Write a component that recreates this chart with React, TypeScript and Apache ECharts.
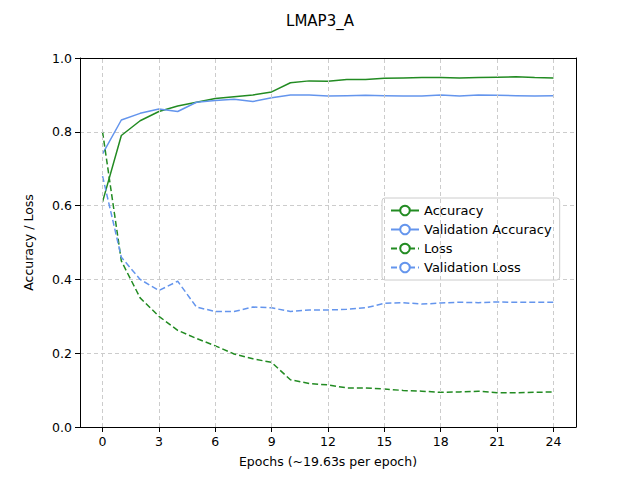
import React, { useEffect, useRef } from "react";
import * as echarts from "echarts";

const epochs = Array.from({ length: 25 }, (_, i) => i);
const xTicks = [0, 3, 6, 9, 12, 15, 18, 21, 24];
const accuracy = [0.61, 0.79, 0.83, 0.855, 0.87, 0.88, 0.89, 0.895, 0.9, 0.908, 0.933, 0.938, 0.937, 0.942, 0.942, 0.945, 0.946, 0.947, 0.947, 0.946, 0.947, 0.948, 0.949, 0.947, 0.946];
const valAccuracy = [0.74, 0.832, 0.85, 0.862, 0.855, 0.88, 0.885, 0.888, 0.882, 0.892, 0.9, 0.9, 0.897, 0.898, 0.899, 0.898, 0.897, 0.897, 0.9, 0.897, 0.9, 0.899, 0.898, 0.897, 0.898];
const loss = [0.8, 0.45, 0.35, 0.3, 0.262, 0.24, 0.22, 0.198, 0.185, 0.175, 0.128, 0.118, 0.114, 0.106, 0.106, 0.103, 0.099, 0.097, 0.094, 0.095, 0.097, 0.093, 0.093, 0.094, 0.095];
const valLoss = [0.68, 0.46, 0.4, 0.37, 0.395, 0.325, 0.313, 0.313, 0.325, 0.323, 0.313, 0.317, 0.317, 0.319, 0.323, 0.335, 0.337, 0.333, 0.336, 0.338, 0.337, 0.339, 0.338, 0.338, 0.338];

const GREEN = "#228b22";
const BLUE = "#6495ed";
const font = "DejaVu Sans";

export default function App() {
  const ref = useRef<HTMLDivElement>(null);
  useEffect(() => {
    const chart = echarts.init(ref.current!, null, { renderer: "svg" });
    const mk = (name: string, data: number[], color: string, dashed: boolean, extra: any = {}) => ({
      name, type: "line", data: epochs.map((e, i) => [e, data[i]]), showSymbol: false,
      lineStyle: { color, width: 1.5, type: dashed ? [6, 3] : "solid" }, itemStyle: { color }, ...extra,
    });
    const axisText = { color: "#000", fontSize: 12.5, fontFamily: font };
    chart.setOption({
      animation: false,
      textStyle: { fontFamily: font },
      title: { text: "LMAP3_A", left: "center", top: 8, textStyle: { fontFamily: font, fontSize: 15, fontWeight: "normal", color: "#000" } },
      grid: { left: 80, right: 64, top: 58, bottom: 53 },
      legend: {
        orient: "vertical", left: 382, top: 198, padding: [6, 8, 6, 8], itemGap: 6,
        borderColor: "#ccc", borderWidth: 1, borderRadius: 3, backgroundColor: "#fff",
        itemWidth: 28, itemHeight: 12, textStyle: { fontFamily: font, fontSize: 13, color: "#000" },
        data: ["Accuracy", "Validation Accuracy", "Loss", "Validation Loss"],
      },
      xAxis: [{
        type: "value", min: -1.2, max: 25.2,
        name: "Epochs (~19.63s per epoch)", nameLocation: "middle", nameGap: 28,
        nameTextStyle: axisText,
        axisLine: { onZero: false, lineStyle: { color: "#000" } },
        axisTick: { customValues: xTicks, lineStyle: { color: "#000" } },
        axisLabel: { customValues: xTicks, ...axisText },
        splitLine: { show: false },
      }, {
        type: "value", min: -1.2, max: 25.2, position: "top",
        axisLine: { show: true, onZero: false, lineStyle: { color: "#000" } },
        axisTick: { show: false }, axisLabel: { show: false }, splitLine: { show: false },
      }],
      yAxis: [{
        type: "value", min: 0, max: 1, interval: 0.2,
        name: "Accuracy / Loss", nameLocation: "middle", nameGap: 45,
        nameTextStyle: axisText,
        axisLine: { show: true, onZero: false, lineStyle: { color: "#000" } },
        axisTick: { show: true, lineStyle: { color: "#000" } },
        axisLabel: { ...axisText, formatter: (v: number) => v.toFixed(1) },
        splitLine: { lineStyle: { color: "#ccc", type: [4, 3] } },
      }, {
        type: "value", min: 0, max: 1, position: "right",
        axisLine: { show: true, onZero: false, lineStyle: { color: "#000" } },
        axisTick: { show: false }, axisLabel: { show: false }, splitLine: { show: false },
      }],
      series: [
        mk("Accuracy", accuracy, GREEN, false, {
          markLine: { silent: true, symbol: "none", label: { show: false }, lineStyle: { color: "#ccc", type: [4, 3], width: 1 }, data: xTicks.map((t) => ({ xAxis: t })) },
        }),
        mk("Validation Accuracy", valAccuracy, BLUE, false),
        mk("Loss", loss, GREEN, true),
        mk("Validation Loss", valLoss, BLUE, true),
      ],
    });
    return () => chart.dispose();
  }, []);
  return <div ref={ref} style={{ width: 640, height: 480, margin: -8 }} />;
}
